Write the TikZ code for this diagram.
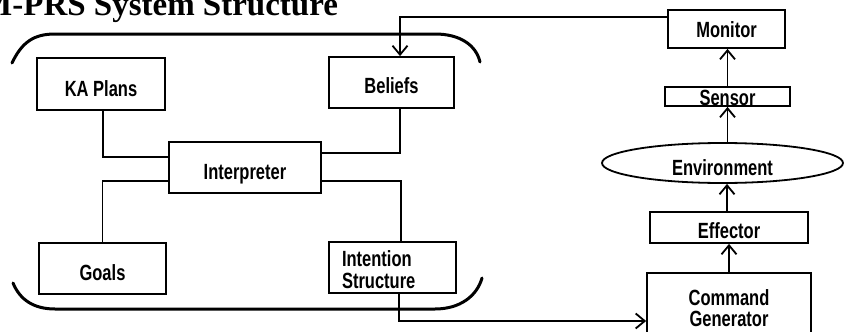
\documentclass[tikz,border=0pt]{standalone}
\usepackage{fontspec}
\setmainfont{Liberation Sans}
\newfontfamily\titlefont{Liberation Serif}
\newfontfamily\boxfont[FakeStretch=0.75]{Liberation Sans Bold}
\usetikzlibrary{arrows.meta,shapes.geometric}
\newcommand{\bl}[2]{\raisebox{-#1}[0pt][0pt]{#2}}
\begin{document}
\begin{tikzpicture}[x=1pt,y=-1pt,
  box/.style={draw,line width=1.8pt,inner sep=0pt,font=\boxfont\fontsize{22}{20}\selectfont},
  conn/.style={line width=1.8pt},
  arr/.style={line width=1.8pt,-{Straight Barb[length=9pt,width=15pt,line width=1.8pt]}},
  brk/.style={line width=3pt,line cap=round}]
\clip (0,0) rectangle (844,332);
\fill[white] (0,0) rectangle (844,332);

\node[anchor=base west,inner sep=0pt,font=\titlefont\bfseries\fontsize{33}{35}\selectfont] (title) at (-19,16) {M-PRS System Structure};

% brackets
\draw[brk] (12,63) .. controls (22,42) and (34,34) .. (55,34) -- (435,34) .. controls (460,34) and (476,45) .. (480,62);
\draw[brk] (13,283) .. controls (20,300) and (34,309) .. (55,309) -- (435,309) .. controls (460,309) and (477,296) .. (482,278);

% left boxes
\node[box,minimum width=128,minimum height=52] (ka) at (101,84) {\bl{12pt}{KA Plans}\hspace{20pt}};
\node[box,minimum width=152,minimum height=51] (interp) at (245,167.5) {\bl{12pt}{Interpreter}\hspace{18pt}};
\node[box,minimum width=125,minimum height=51] (bel) at (391.5,82.5) {\bl{10.5pt}{Beliefs}\hspace{15pt}};
\node[box,minimum width=127,minimum height=51] (goals) at (102.5,268.5) {\bl{11.5pt}{Goals}\hspace{11pt}};
\node[box,minimum width=127,minimum height=51,font=\boxfont\fontsize{22}{22}\selectfont] (int) at (392.5,267.5) {\makebox[101pt][l]{\bl{-1.5pt}{\begin{tabular}[t]{@{}l@{}}Intention\\Structure\end{tabular}}}};

% right column
\node[box,minimum width=117,minimum height=38] (mon) at (726.5,29) {\bl{9pt}{Monitor}\hspace{11pt}};
\node[box,minimum width=125,minimum height=19] (sen) at (727.5,96.5) {\bl{9pt}{Sensor}\hspace{11pt}};
\node[box,ellipse,minimum width=241,minimum height=40] (env) at (722.5,163) {\bl{12pt}{Environment}\hspace{9pt}};
\node[box,minimum width=158,minimum height=31] (eff) at (729,227.5) {\bl{10.5pt}{Effector}\hspace{13pt}};
\node[box,minimum width=164,minimum height=68] (cmd) at (729,307) {\bl{-2pt}{\begin{tabular}[t]{@{}c@{}}Command\\Generator\end{tabular}}\hspace{17pt}};

% connectors
\draw[conn] ([xshift=2pt]ka.south) |- ([yshift=10.5pt]interp.west);
\draw[conn] (goals.north) |- ([yshift=-13.5pt]interp.west);
\draw[conn] ([xshift=8.5pt]bel.south) |- ([yshift=14.5pt]interp.east);
\draw[conn] ([xshift=8.5pt]int.north) |- ([yshift=-13.5pt]interp.east);
\draw[arr] ([xshift=6.5pt]int.south) |- ([yshift=-14pt]cmd.west);
\draw[arr] ([yshift=12pt]mon.west) -| ([xshift=8.5pt]bel.north);
\draw[arr] (cmd.north) -- (eff.south);
\draw[arr] ([xshift=-2pt]eff.north) -- ([xshift=-2pt]eff.north |- env.south);
\draw[arr] (sen.south |- env.north) -- (sen.south);
\draw[arr] (sen.north) -- (sen.north |- mon.south);
\end{tikzpicture}
\end{document}
